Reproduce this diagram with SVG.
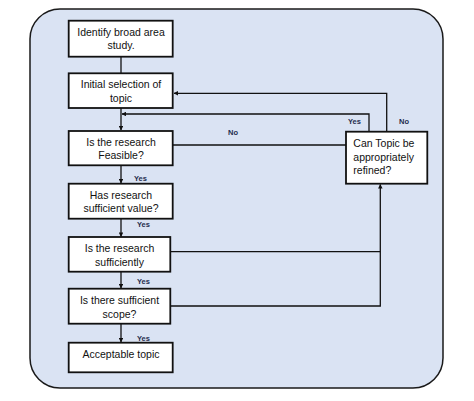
<svg xmlns="http://www.w3.org/2000/svg" width="474" height="401" viewBox="0 0 474 401">
<style>
.box{fill:#fff;stroke:#111;stroke-width:1.8}
.t{font-family:"Liberation Sans",Arial,sans-serif;font-size:10.5px;fill:#111;text-anchor:middle}
.tl{text-anchor:start}
.lbl{font-family:"Liberation Sans",Arial,sans-serif;font-size:7.5px;fill:#1f2d4d;font-weight:bold}
.c{fill:none;stroke:#111;stroke-width:1.3}
</style>
<defs>
<marker id="ah" viewBox="0 0 10 10" refX="9" refY="5" markerWidth="4.5" markerHeight="4.5" orient="auto" markerUnits="userSpaceOnUse">
<path d="M0,0L10,5L0,10z" fill="#111"/>
</marker>
</defs>
<rect x="30" y="9" width="413" height="379" rx="30" ry="30" fill="#dae3f3" stroke="#1a1a1a" stroke-width="1.5"/>
<g id="connectors">
<path class="c" d="M121,56.7V73.3"/>
<path class="c" d="M121,108V130" marker-end="url(#ah)"/>
<path class="c" d="M121,165.3V183" marker-end="url(#ah)"/>
<path class="c" d="M121,218.7V236.5" marker-end="url(#ah)"/>
<path class="c" d="M121,271.7V288" marker-end="url(#ah)"/>
<path class="c" d="M121,323.7V342" marker-end="url(#ah)"/>
<path class="c" d="M369,131.7V114H122" marker-end="url(#ah)"/>
<path class="c" d="M386.7,131.7V93.3H174" marker-end="url(#ah)"/>
<path class="c" d="M172.7,145H346"/>
<path class="c" d="M170.3,251.7H380.3"/>
<path class="c" d="M170.3,306H380.3V184.5" marker-end="url(#ah)"/>
<text class="lbl" x="134" y="181">Yes</text>
<text class="lbl" x="137" y="227">Yes</text>
<text class="lbl" x="137" y="284">Yes</text>
<text class="lbl" x="137" y="341">Yes</text>
<text class="lbl" x="228" y="135">No</text>
<text class="lbl" x="348" y="124">Yes</text>
<text class="lbl" x="399" y="124">No</text>
</g>
<g id="n1"><rect class="box" x="68.7" y="20.7" width="104" height="36"/><text class="t" x="121" y="35.5">Identify broad area</text><text class="t" x="121" y="49">study.</text></g>
<g id="n2"><rect class="box" x="68.7" y="73.3" width="104" height="34.7"/><text class="t" x="121" y="88">Initial selection of</text><text class="t" x="121" y="101.7">topic</text></g>
<g id="n3"><rect class="box" x="68.7" y="131" width="104" height="34.3"/><text class="t" x="121" y="146">Is the research</text><text class="t" x="121" y="159">Feasible?</text></g>
<g id="n4"><rect class="box" x="68.7" y="183.7" width="104" height="35"/><text class="t" x="121" y="198.5">Has research</text><text class="t" x="121" y="211.5">sufficient value?</text></g>
<g id="n5"><rect class="box" x="68.7" y="237" width="101.6" height="34.7"/><text class="t" x="119.5" y="252">Is the research</text><text class="t" x="119.5" y="265.5">sufficiently</text></g>
<g id="n6"><rect class="box" x="68.7" y="288.7" width="101.6" height="35"/><text class="t" x="119.5" y="303.5">Is there sufficient</text><text class="t" x="119.5" y="317.5">scope?</text></g>
<g id="n7"><rect class="box" x="68.7" y="342.7" width="104" height="29.6"/><text class="t" x="121" y="357.5">Acceptable topic</text></g>
<g id="n8"><rect class="box" x="346" y="131.7" width="81.3" height="52"/><text class="t tl" x="353.3" y="146.5">Can Topic be</text><text class="t tl" x="353.3" y="160.5">appropriately</text><text class="t tl" x="353.3" y="174">refined?</text></g>
</svg>
